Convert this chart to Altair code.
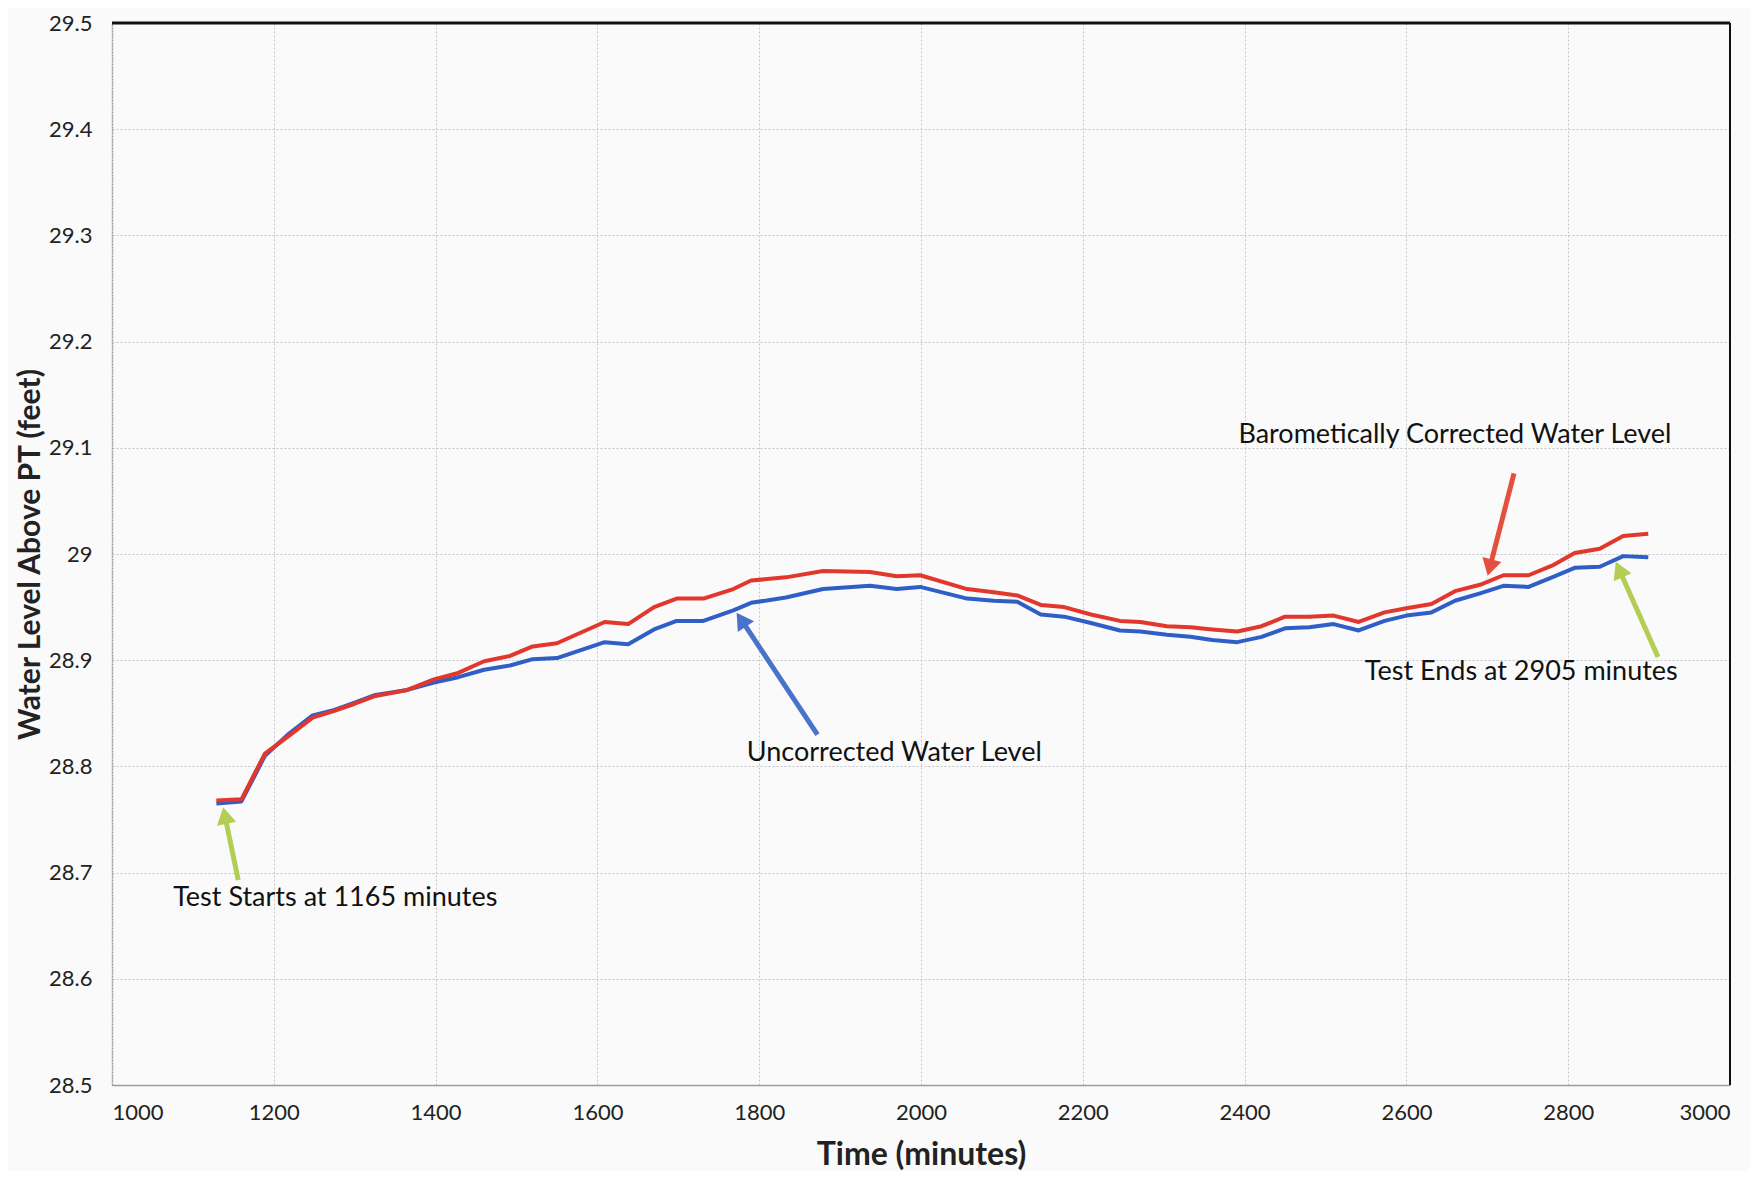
import math
import altair as alt
import pandas as pd

# ---- data ----
time_min = [1129, 1160, 1189, 1219, 1248, 1274, 1300, 1324, 1365, 1398, 1428, 1460, 1492,
            1520, 1550, 1609, 1638, 1670, 1698, 1731, 1768, 1790, 1833, 1879, 1937, 1970,
            1999, 2057, 2090, 2119, 2148, 2177, 2210, 2246, 2271, 2304, 2333, 2360, 2391,
            2421, 2450, 2480, 2510, 2541, 2573, 2600, 2631, 2660, 2691, 2720, 2751, 2780,
            2808, 2839, 2868, 2899]
corrected = [28.768, 28.769, 28.812, 28.829, 28.846, 28.852, 28.859, 28.866, 28.872, 28.882,
             28.888, 28.899, 28.904, 28.913, 28.916, 28.936, 28.934, 28.950, 28.958, 28.958,
             28.967, 28.975, 28.978, 28.984, 28.983, 28.979, 28.980, 28.967, 28.964, 28.961,
             28.952, 28.950, 28.943, 28.937, 28.936, 28.932, 28.931, 28.929, 28.927, 28.932,
             28.941, 28.941, 28.942, 28.936, 28.945, 28.949, 28.953, 28.965, 28.971, 28.980,
             28.980, 28.989, 29.001, 29.005, 29.017, 29.019]
uncorrected = [28.765, 28.767, 28.810, 28.831, 28.848, 28.853, 28.860, 28.867, 28.872, 28.879,
               28.884, 28.891, 28.895, 28.901, 28.902, 28.917, 28.915, 28.929, 28.937, 28.937,
               28.947, 28.954, 28.959, 28.967, 28.970, 28.967, 28.969, 28.958, 28.956, 28.955,
               28.943, 28.941, 28.935, 28.928, 28.927, 28.924, 28.922, 28.919, 28.917, 28.922,
               28.930, 28.931, 28.934, 28.928, 28.937, 28.942, 28.945, 28.956, 28.963, 28.970,
               28.969, 28.978, 28.987, 28.988, 28.998, 28.997]

series_names = ["Barometically Corrected Water Level", "Uncorrected Water Level"]
series_colors = ["#e2372d", "#2f5fc6"]

# annotation texts (centre position in data units)
note_text = ["Test Starts at 1165 minutes", "Uncorrected Water Level",
             "Barometically Corrected Water Level", "Test Ends at 2905 minutes"]
note_t = [1276, 1967, 2660, 2742]
note_v = [28.676, 28.813, 29.112, 28.889]

# arrows (tail -> tip, data units)
arrow_tail_t = [1156, 1872, 2733, 2911]
arrow_tail_v = [28.693, 28.830, 29.076, 28.903]
arrow_tip_t = [1137, 1771, 2700, 2858]
arrow_tip_v = [28.763, 28.946, 28.978, 28.994]
arrow_colors = ["#b3cd55", "#4a72c8", "#e4503f", "#b3cd55"]

x_ticks = list(range(1000, 3001, 200))
y_ticks = [28.5, 28.6, 28.7, 28.8, 28.9, 29.0, 29.1, 29.2, 29.3, 29.4, 29.5]

W, H = 1618, 1062
FONT = "Lato"

rows = []
for t, c, u in zip(time_min, corrected, uncorrected):
    rows.append({"t": t, "v": u, "s": series_names[1]})
    rows.append({"t": t, "v": c, "s": series_names[0]})
lines_df = pd.DataFrame(rows)

# arrow geometry in data units
px_per_t = W / 2000.0
px_per_v = H / 1.0
shafts, heads = [], []
for i in range(len(arrow_tip_t)):
    dx = (arrow_tip_t[i] - arrow_tail_t[i]) * px_per_t
    dy = -(arrow_tip_v[i] - arrow_tail_v[i]) * px_per_v
    L = math.hypot(dx, dy)
    ux, uy = dx / L, dy / L
    back = 10.0
    hx = arrow_tip_t[i] - back * ux / px_per_t
    hy = arrow_tip_v[i] + back * uy / px_per_v
    ang = math.degrees(math.atan2(ux, -uy)) % 360
    shafts.append({"t": arrow_tail_t[i], "v": arrow_tail_v[i], "t2": hx, "v2": hy,
                   "c": arrow_colors[i], "id": i})
    heads.append({"t": hx, "v": hy, "ang": ang, "c": arrow_colors[i], "id": i})
shaft_df = pd.DataFrame(shafts)
head_df = pd.DataFrame(heads)
notes_df = pd.DataFrame({"t": note_t, "v": note_v, "txt": note_text})

xs = alt.Scale(domain=[1000, 3000], nice=False, zero=False)
ys = alt.Scale(domain=[28.5, 29.5], nice=False, zero=False)

x_axis = alt.Axis(values=x_ticks, title="Time (minutes)", ticks=False, labelPadding=17,
                  format="d",
                  labelFontSize=22, labelFont=FONT, labelColor="#222222",
                  titleFont=FONT, titleFontSize=32, titleFontWeight="bold",
                  titleColor="#222222", titlePadding=16,
                  grid=True, gridColor="#c5c7cf", gridDash=[2, 2], gridWidth=1,
                  domainColor="#9c9ca4", domainWidth=1.5)
y_axis = alt.Axis(values=y_ticks, title="Water Level Above PT (feet)", ticks=False,
                  labelPadding=20, format=".1~f",
                  labelFontSize=22, labelFont=FONT, labelColor="#222222",
                  titleFont=FONT, titleFontSize=30, titleFontWeight="bold",
                  titleColor="#222222", titlePadding=3,
                  grid=True, gridColor="#c5c7cf", gridDash=[2, 2], gridWidth=1,
                  domainColor="#9c9ca4", domainWidth=1.5, domainDash=[2, 1])

base = alt.Chart(lines_df)
lines = base.mark_line(strokeWidth=4, strokeJoin="round").encode(
    x=alt.X("t:Q", scale=xs, axis=x_axis),
    y=alt.Y("v:Q", scale=ys, axis=y_axis),
    color=alt.Color("s:N", scale=alt.Scale(domain=series_names, range=series_colors), legend=None),
    detail="s:N",
)

frame_top = alt.Chart(pd.DataFrame({"v": [29.5]})).mark_rule(color="#111111", strokeWidth=3).encode(
    y=alt.Y("v:Q", scale=ys))
frame_right = alt.Chart(pd.DataFrame({"t": [3000]})).mark_rule(color="#111111", strokeWidth=2).encode(
    x=alt.X("t:Q", scale=xs))

shaft = alt.Chart(shaft_df).mark_rule(strokeWidth=5).encode(
    x=alt.X("t:Q", scale=xs), y=alt.Y("v:Q", scale=ys),
    x2="t2:Q", y2="v2:Q",
    color=alt.Color("c:N", scale=None),
)
head = alt.Chart(head_df).mark_point(shape="triangle-up", filled=True, size=380, opacity=1).encode(
    x=alt.X("t:Q", scale=xs), y=alt.Y("v:Q", scale=ys),
    angle=alt.Angle("ang:Q", scale=None),
    color=alt.Color("c:N", scale=None),
)
notes = alt.Chart(notes_df).mark_text(font=FONT, fontSize=27, color="#111111",
                                      align="center", baseline="middle").encode(
    x=alt.X("t:Q", scale=xs), y=alt.Y("v:Q", scale=ys), text="txt:N")

chart = alt.layer(lines, frame_top, frame_right, shaft, head, notes).properties(
    width=W, height=H,
    autosize=alt.AutoSizeParams(type="none"),
    padding={"left": 104, "top": 15, "right": 20, "bottom": 86},
    background="#fafafa",
).configure_view(stroke=None)

chart.save("out.html", embed_options={"renderer": "svg", "actions": False})
